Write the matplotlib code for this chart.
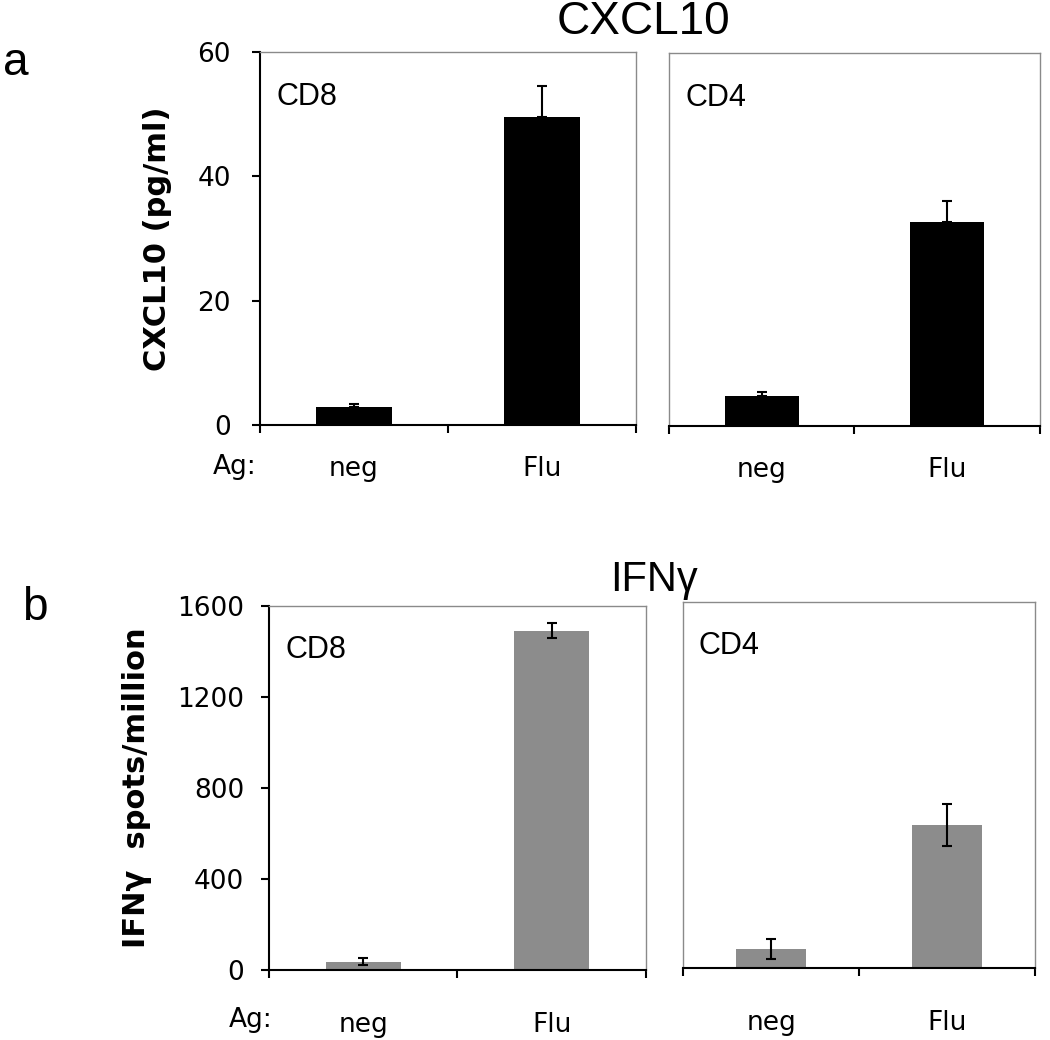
import numpy as np
import matplotlib.pyplot as plt

# values
antigens = ['neg', 'Flu']
cxcl10_cd8 = [2.9, 49.5]
cxcl10_cd8_err = [0.5, 5.0]
cxcl10_cd4 = [4.8, 32.8]
cxcl10_cd4_err = [0.7, 3.4]
ifng_cd8 = [36, 1491]
ifng_cd8_err = [16, 33]
ifng_cd4 = [82, 626]
ifng_cd4_err = [43, 93]

cxcl10_ticks = [0, 20, 40, 60]
ifng_ticks = [0, 400, 800, 1200, 1600]

FRAME = '#8a8a8a'
ARIAL = 'Liberation Sans'
VERDANA = 'DejaVu Sans'


def draw_panel(ax, vals, errs, color, ymax, yticks, label, one_sided, show_y, xpad, ypad):
    x = np.arange(len(vals))
    if one_sided:
        yerr = [np.zeros(len(errs)), errs]
    else:
        yerr = errs
    ax.bar(x, vals, width=0.4, color=color, zorder=2)
    ax.errorbar(x, vals, yerr=yerr, fmt='none', ecolor='black', elinewidth=1.5,
                capsize=3.5, capthick=1.5, zorder=3)
    ax.set_xlim(-0.5, len(vals) - 0.5)
    ax.set_ylim(0, ymax)

    # category boundaries get the ticks, centres get the labels
    ax.set_xticks(np.arange(len(vals) + 1) - 0.5)
    ax.set_xticklabels([])
    ax.set_xticks(x, minor=True)
    ax.set_xticklabels(antigens, minor=True, fontsize=19, fontfamily=VERDANA)
    ax.tick_params(axis='x', which='major', direction='out', length=6, width=1.5)
    ax.tick_params(axis='x', which='minor', length=0, pad=xpad)

    for side in ['top', 'right']:
        ax.spines[side].set_color(FRAME)
        ax.spines[side].set_linewidth(1.0)
    ax.spines['bottom'].set_linewidth(1.5)
    if show_y:
        ax.spines['left'].set_linewidth(1.5)
        ax.set_yticks(yticks)
        ax.set_yticklabels([str(t) for t in yticks], fontsize=19, fontfamily=VERDANA)
        ax.tick_params(axis='y', direction='out', length=6, width=1.5, pad=ypad)
    else:
        ax.spines['left'].set_color(FRAME)
        ax.spines['left'].set_linewidth(1.0)
        ax.set_yticks([])

    ax.text(0.045, 0.92, label, transform=ax.transAxes, fontsize=22,
            fontfamily=ARIAL, va='top', ha='left')


fig = plt.figure(figsize=(10.5, 10.4), dpi=100)

ax1 = fig.add_axes([0.2476, 0.5913, 0.3581, 0.3587])
ax2 = fig.add_axes([0.6371, 0.5904, 0.3533, 0.3587])
ax3 = fig.add_axes([0.2562, 0.0673, 0.3590, 0.3500])
ax4 = fig.add_axes([0.6505, 0.0692, 0.3352, 0.3519])

draw_panel(ax1, cxcl10_cd8, cxcl10_cd8_err, 'black', 60, cxcl10_ticks, 'CD8', True, True, 22, 15)
draw_panel(ax2, cxcl10_cd4, cxcl10_cd4_err, 'black', 60, cxcl10_ticks, 'CD4', True, False, 22, 15)
draw_panel(ax3, ifng_cd8, ifng_cd8_err, '#8c8c8c', 1600, ifng_ticks, 'CD8', False, True, 30, 12)
draw_panel(ax4, ifng_cd4, ifng_cd4_err, '#8c8c8c', 1600, ifng_ticks, 'CD4', False, False, 30, 12)

ax1.set_ylabel('CXCL10 (pg/ml)', fontsize=22, fontweight='bold', fontfamily=VERDANA, labelpad=18)
ax3.set_ylabel('IFN\u03b3  spots/million', fontsize=22, fontweight='bold', fontfamily=VERDANA, labelpad=18)

# "Ag:" sits left of the first category label
fig.text(235 / 1050, 1 - 467 / 1040, 'Ag:', fontsize=19, fontfamily=VERDANA, ha='center', va='center')
fig.text(251 / 1050, 1 - 1020 / 1040, 'Ag:', fontsize=19, fontfamily=VERDANA, ha='center', va='center')

fig.text(643 / 1050, 1 - 22 / 1040, 'CXCL10', fontsize=33, fontfamily=ARIAL, ha='center', va='center')
fig.text(654 / 1050, 1 - 580 / 1040, 'IFN\u03b3', fontsize=30, fontfamily=ARIAL, ha='center', va='center')

fig.text(3 / 1050, 1 - 75 / 1040, 'a', fontsize=33, fontfamily=ARIAL, ha='left', va='baseline')
fig.text(22 / 1050, 1 - 620 / 1040, 'b', fontsize=33, fontfamily=ARIAL, ha='left', va='baseline')

plt.savefig('out.png', dpi=100)
